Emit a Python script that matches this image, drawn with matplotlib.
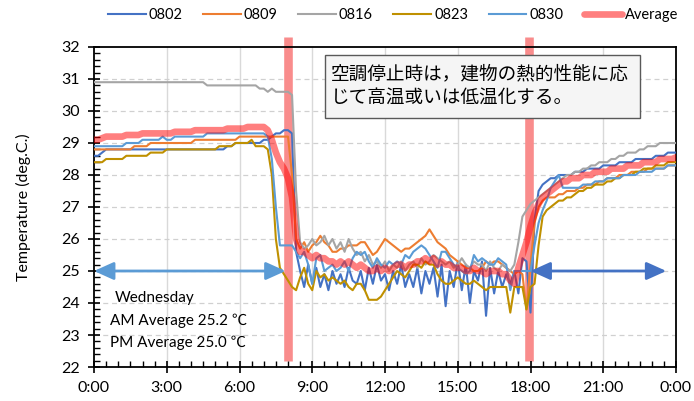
import numpy as np
import matplotlib
matplotlib.use("Agg")
import matplotlib.pyplot as plt
from matplotlib.patches import Rectangle
from matplotlib.ticker import MultipleLocator, FixedLocator

plt.rcParams['font.family'] = ['Lato', 'Noto Sans CJK JP', 'DejaVu Sans']

# ---------------- data (10-minute readings, hours 0..24) ----------------
s0802 = [
    28.6, 28.6, 28.7, 28.8, 28.8, 28.8,
    28.8, 28.8, 28.8, 28.8, 28.8, 28.8,
    28.8, 28.8, 28.8, 28.8, 28.8, 28.8,
    28.8, 28.8, 28.8, 28.8, 28.8, 28.8,
    28.8, 28.8, 28.8, 28.8, 28.8, 28.8,
    28.8, 28.8, 28.8, 28.9, 28.9, 29.0,
    29.0, 29.0, 29.0, 29.0, 29.0, 29.0,
    29.1, 29.1, 29.2, 29.3, 29.3, 29.4,
    29.4, 29.3, 25.6, 25.0, 24.5, 25.2,
    24.6, 25.1, 24.5, 24.9, 24.4, 25.0,
    24.6, 24.9, 24.5, 25.1, 24.7, 24.6,
    25.0, 24.4, 25.1, 24.6, 25.2, 24.7,
    24.9, 24.4, 25.0, 24.6, 25.2, 24.5,
    24.9, 24.5, 25.1, 24.3, 25.0, 24.6,
    25.1, 24.2, 25.2, 23.9, 25.0, 24.5,
    25.3, 24.4, 25.2, 24.0, 25.0, 24.7,
    25.3, 23.6, 25.1, 24.3, 25.0, 24.5,
    24.9, 24.6, 25.0, 24.3, 25.4, 25.3,
    23.7, 26.6, 27.5, 27.7, 27.8, 27.9,
    27.9, 28.0, 28.0, 28.0, 28.0, 28.1,
    28.1, 28.1, 28.2, 28.2, 28.2, 28.2,
    28.3, 28.3, 28.3, 28.3, 28.4, 28.4,
    28.4, 28.4, 28.5, 28.5, 28.5, 28.5,
    28.5, 28.6, 28.6, 28.6, 28.7, 28.7,
    28.7]

s0809 = [
    28.8, 28.8, 28.8, 28.8, 28.8, 28.8,
    28.8, 28.8, 28.8, 28.8, 28.9, 28.9,
    28.9, 28.9, 29.0, 29.0, 29.0, 29.0,
    29.0, 29.0, 29.0, 29.0, 29.0, 29.0,
    29.0, 29.1, 29.1, 29.1, 29.1, 29.1,
    29.1, 29.1, 29.1, 29.1, 29.1, 29.1,
    29.2, 29.2, 29.2, 29.2, 29.2, 29.2,
    29.2, 29.2, 29.2, 29.2, 29.2, 29.2,
    29.2, 28.0, 26.0, 25.7, 25.9, 25.6,
    25.8, 25.9, 26.1, 25.9, 25.8, 25.6,
    25.6, 25.7, 25.7, 25.8, 25.8, 25.8,
    25.9, 25.9, 25.7, 25.5, 25.6, 25.8,
    26.0, 25.9, 25.8, 25.7, 25.6, 25.7,
    25.7, 25.8, 25.9, 26.0, 26.1, 26.3,
    26.1, 25.9, 25.8, 25.7, 25.5, 25.4,
    25.3, 25.2, 25.1, 25.1, 25.0, 25.0,
    25.1, 25.3, 25.2, 25.3, 25.3, 25.2,
    25.1, 25.0, 24.9, 25.0, 24.9, 23.8,
    25.2, 26.5, 27.0, 27.2, 27.3, 27.3,
    27.3, 27.4, 27.4, 27.5, 27.5, 27.5,
    27.6, 27.6, 27.7, 27.7, 27.7, 27.8,
    27.8, 27.9, 27.9, 27.9, 28.0, 28.0,
    28.0, 28.1, 28.1, 28.1, 28.1, 28.2,
    28.2, 28.2, 28.2, 28.2, 28.3, 28.3,
    28.3]

s0816 = [
    30.9, 30.9, 30.9, 30.9, 30.9, 30.9,
    30.9, 30.9, 30.9, 30.9, 30.9, 30.9,
    30.9, 30.9, 30.9, 30.9, 30.9, 30.9,
    30.9, 30.9, 30.9, 30.9, 30.9, 30.9,
    30.9, 30.9, 30.9, 30.9, 30.8, 30.8,
    30.8, 30.8, 30.8, 30.8, 30.8, 30.8,
    30.8, 30.8, 30.8, 30.8, 30.8, 30.7,
    30.7, 30.6, 30.7, 30.6, 30.6, 30.6,
    30.6, 30.5, 27.5, 25.9, 25.7, 25.8,
    26.0, 25.8, 25.9, 26.1, 25.8, 26.0,
    25.7, 25.9, 25.6, 26.0, 25.7, 25.5,
    25.6, 25.3, 25.5, 25.2, 25.3, 25.1,
    25.3, 25.0, 25.2, 25.1, 25.3, 25.0,
    25.2, 25.3, 25.1, 25.4, 25.2, 25.3,
    25.5, 25.4, 25.3, 25.2, 25.3, 25.1,
    25.2, 25.4, 25.2, 25.1, 25.3, 25.2,
    25.2, 25.0, 25.3, 25.1, 25.0, 25.2,
    25.1, 25.0, 25.2, 25.9, 26.7, 26.9,
    27.1, 27.2, 27.3, 27.4, 27.5, 27.6,
    27.7, 27.8, 27.9, 28.0, 28.0, 28.1,
    28.1, 28.2, 28.2, 28.3, 28.3, 28.4,
    28.4, 28.4, 28.5, 28.5, 28.6, 28.6,
    28.7, 28.7, 28.7, 28.8, 28.8, 28.9,
    28.9, 28.9, 29.0, 29.0, 29.0, 29.0,
    29.0]

s0823 = [
    28.4, 28.4, 28.4, 28.5, 28.5, 28.5,
    28.5, 28.5, 28.6, 28.6, 28.6, 28.6,
    28.6, 28.6, 28.7, 28.7, 28.7, 28.7,
    28.8, 28.8, 28.8, 28.8, 28.8, 28.8,
    28.8, 28.8, 28.8, 28.8, 28.8, 28.8,
    28.8, 28.9, 28.9, 28.9, 28.9, 29.0,
    29.0, 29.0, 29.0, 29.1, 28.9, 28.9,
    28.9, 28.8, 28.0, 26.0, 25.1, 24.9,
    24.7, 24.5, 24.4, 24.8, 25.1, 24.6,
    24.4, 25.0, 24.8, 24.9, 24.7, 24.8,
    24.7, 24.6, 24.7, 24.5, 24.4, 24.6,
    24.6, 24.4, 24.1, 24.1, 24.1, 24.2,
    24.4, 24.6, 24.8, 25.0, 24.9, 24.8,
    25.0, 25.2, 25.2, 25.1, 25.3, 25.2,
    25.2, 24.9, 24.7, 24.6, 24.6, 24.7,
    24.8, 24.7, 24.6, 24.6, 24.7, 24.6,
    24.5, 24.4, 24.5, 24.5, 24.5, 24.5,
    24.5, 23.7, 24.5, 24.5, 24.5, 23.8,
    24.5, 24.6, 25.8, 26.7, 26.9, 27.0,
    27.1, 27.2, 27.2, 27.3, 27.3, 27.4,
    27.5, 27.5, 27.6, 27.6, 27.7, 27.7,
    27.7, 27.8, 27.8, 27.9, 27.9, 28.0,
    28.0, 28.0, 28.1, 28.1, 28.2, 28.2,
    28.2, 28.3, 28.3, 28.3, 28.4, 28.4,
    28.4]

s0830 = [
    28.9, 28.9, 28.9, 28.9, 28.9, 28.9,
    28.9, 28.9, 29.0, 29.0, 29.0, 29.0,
    29.1, 29.1, 29.1, 29.1, 29.1, 29.2,
    29.1, 29.1, 29.2, 29.2, 29.2, 29.2,
    29.2, 29.2, 29.2, 29.2, 29.3, 29.3,
    29.3, 29.3, 29.3, 29.3, 29.3, 29.3,
    29.3, 29.3, 29.3, 29.3, 29.3, 29.3,
    29.3, 29.2, 28.5, 27.0, 25.8, 25.8,
    25.8, 25.8, 25.6, 25.4, 25.6, 25.2,
    24.6, 25.4, 25.5, 25.0, 25.1, 25.2,
    25.0, 25.1, 25.3, 25.0, 25.4, 25.6,
    25.5, 25.6, 25.3, 25.1, 25.4, 25.2,
    25.1, 25.3, 25.2, 25.3, 25.2, 25.5,
    25.4, 25.6, 25.7, 25.8, 25.7, 25.5,
    25.3, 25.1, 25.6, 25.6, 25.4, 25.2,
    25.1, 25.0, 24.9, 25.0, 25.5, 25.3,
    25.4, 25.3, 25.2, 25.2, 25.4, 25.3,
    25.2, 24.4, 25.0, 25.0, 25.0, 25.0,
    25.0, 25.8, 26.5, 26.9, 27.2, 27.6,
    27.8, 28.0, 27.6, 27.6, 27.6, 27.6,
    27.6, 27.7, 27.7, 27.7, 27.8, 27.8,
    27.8, 27.9, 27.9, 27.9, 27.9, 28.0,
    28.0, 28.0, 28.0, 28.1, 28.1, 28.1,
    28.1, 28.2, 28.2, 28.2, 28.3, 28.3,
    28.3]

average = [
    29.1, 29.1, 29.15, 29.2, 29.2, 29.2,
    29.2, 29.2, 29.25, 29.25, 29.25, 29.25,
    29.3, 29.3, 29.3, 29.3, 29.3, 29.3,
    29.3, 29.3, 29.35, 29.35, 29.35, 29.35,
    29.35, 29.4, 29.4, 29.4, 29.4, 29.4,
    29.4, 29.4, 29.4, 29.45, 29.45, 29.45,
    29.45, 29.45, 29.5, 29.5, 29.5, 29.5,
    29.5, 29.4, 29.1, 28.7, 28.4, 28.2,
    27.9, 27.3, 26.0, 25.6, 25.6, 25.5,
    25.4, 25.5, 25.4, 25.4, 25.3, 25.3,
    25.2, 25.3, 25.2, 25.3, 25.2, 25.1,
    25.2, 25.1, 25.0, 25.0, 25.1, 25.0,
    25.1, 25.0, 25.1, 25.2, 25.2, 25.1,
    25.2, 25.2, 25.3, 25.3, 25.4, 25.3,
    25.4, 25.2, 25.3, 25.2, 25.2, 25.1,
    25.1, 25.1, 25.0, 25.0, 25.1, 25.0,
    25.0, 24.9, 25.0, 25.0, 25.0, 24.9,
    24.9, 24.7, 24.6, 25.1, 25.5, 25.9,
    26.4, 26.8, 27.1, 27.3, 27.4, 27.5,
    27.6, 27.7, 27.8, 27.8, 27.9, 27.9,
    27.9, 28.0, 28.0, 28.0, 28.1, 28.1,
    28.1, 28.1, 28.2, 28.2, 28.2, 28.2,
    28.3, 28.3, 28.3, 28.3, 28.4, 28.4,
    28.4, 28.4, 28.5, 28.5, 28.5, 28.5,
    28.55]

series_names = ["0802", "0809", "0816", "0823", "0830"]
series_values = [s0802, s0809, s0816, s0823, s0830]
series_colors = ["#4472C4", "#ED7D31", "#A5A5A5", "#BF9000", "#5B9BD5"]

x_tick_hours = [0, 3, 6, 9, 12, 15, 18, 21, 24]
x_tick_labels = ["0:00", "3:00", "6:00", "9:00", "12:00", "15:00", "18:00", "21:00", "0:00"]
stop_times = [8.0, 17.92]          # air-conditioning stop markers (hours)
am_span = [0.0, 7.9]
pm_span = [18.0, 23.6]
arrow_level = 25.0
note_text = "空調停止時は，建物の熱的性能に応\nじて高温或いは低温化する。"
info_lines = ["Wednesday", "AM Average 25.2 \u2103", "PM Average 25.0 \u2103"]

# ---------------- figure ----------------
fig = plt.figure(figsize=(6.94, 4.01), dpi=100)
ax = fig.add_axes([94 / 694, 1 - 367 / 401, 582 / 694, 320 / 401])

ax.set_xlim(0, 24)
ax.set_ylim(22, 32)

# grid
for h in x_tick_hours[1:-1]:
    ax.axvline(h, color="#D9D9D9", lw=1.0, zorder=0)
for yv in range(23, 32):
    ax.axhline(yv, color="#D0D0D0", lw=0.9, ls=(0, (4, 3)), zorder=0)

# stop markers
for st in stop_times:
    ax.plot([st, st], [22.2, 32.32], color="#F98C8C", lw=6.2,
            solid_capstyle="butt", clip_on=False, zorder=1)

# series
for name, vals, col in zip(series_names, series_values, series_colors):
    t = np.arange(len(vals)) / 6.0
    ax.plot(t, vals, color=col, lw=1.5, label=name, zorder=3)

ta = np.arange(len(average)) / 6.0
ax.plot(ta, average, color="#FF0000", alpha=0.5, lw=4.8, label="Average",
        solid_capstyle="round", zorder=4)

# arrows
ax.annotate("", xy=(am_span[1], arrow_level), xytext=(am_span[0], arrow_level),
            arrowprops=dict(arrowstyle="<|-|>,head_length=1.0,head_width=0.45",
                            mutation_scale=12, color="#5B9BD5", lw=2,
                            shrinkA=0, shrinkB=0), zorder=5)
ax.annotate("", xy=(pm_span[1], arrow_level), xytext=(pm_span[0], arrow_level),
            arrowprops=dict(arrowstyle="<|-|>,head_length=1.0,head_width=0.45",
                            mutation_scale=12, color="#4472C4", lw=2,
                            shrinkA=0, shrinkB=0), zorder=5)

# axes styling
for sp in ax.spines.values():
    sp.set_color("black")
    sp.set_linewidth(1.3)
ax.xaxis.set_major_locator(FixedLocator(x_tick_hours))
ax.set_xticklabels(x_tick_labels)
ax.xaxis.set_minor_locator(MultipleLocator(0.5))
ax.yaxis.set_major_locator(MultipleLocator(1))
ax.yaxis.set_minor_locator(MultipleLocator(0.2))
ax.tick_params(which="major", direction="inout", length=8, width=1.2,
               labelsize=11.5, colors="black")
ax.tick_params(which="minor", direction="in", length=4, width=1.0)
ax.tick_params(axis="x", which="major", pad=6)
ax.tick_params(axis="y", which="major", pad=6)
ax.tick_params(top=False, right=False, which="both")
ax.set_ylabel("Temperature (deg.C.)", fontsize=11.5, labelpad=22)

# info text
ax.text(0.87, 24.17, info_lines[0], fontsize=11, va="center", ha="left", zorder=6)
ax.text(0.66, 23.45, info_lines[1], fontsize=11, va="center", ha="left", zorder=6)
ax.text(0.66, 22.76, info_lines[2], fontsize=11, va="center", ha="left", zorder=6)

# note box
fig.patches.append(Rectangle((325 / 694, 1 - 118 / 401), 315 / 694, 63 / 401,
                             transform=fig.transFigure, facecolor="#F5F5F5",
                             edgecolor="#595959", lw=1.0, zorder=10))
fig.text(331 / 694, 1 - 86 / 401, note_text, fontsize=13.4,
         family=["Noto Sans CJK JP", "DejaVu Sans"], va="center", ha="left",
         linespacing=1.45, zorder=11)

# legend
leg = fig.legend(loc="center", bbox_to_anchor=(0.566, 0.962), ncol=6,
                 frameon=False, fontsize=10.5, handlelength=2.6,
                 handletextpad=0.2, columnspacing=1.4)

fig.savefig("out.png", dpi=100)
